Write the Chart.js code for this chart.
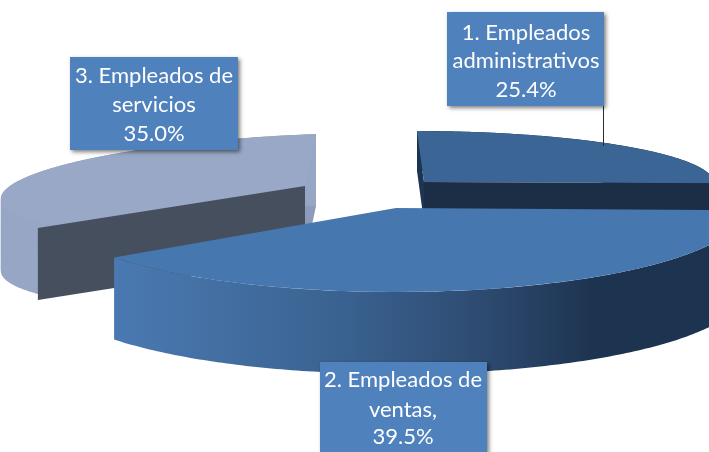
<!DOCTYPE html>
<html><head><meta charset="utf-8">
<style>html,body{margin:0;padding:0;background:#fff}canvas{display:block}</style>
<script src="https://cdn.jsdelivr.net/npm/chart.js@4"></script>
</head><body>
<canvas id="c" width="709" height="452"></canvas>
<script>
const categories = ['1. Empleados administrativos', '2. Empleados de ventas', '3. Empleados de servicios'];
const shares = [25.4, 39.5, 35.0];
const labelLines = [
  ['1. Empleados', 'administrativos', '25.4%'],
  ['2. Empleados de', 'ventas,', '39.5%'],
  ['3. Empleados de', 'servicios', '35.0%']
];
const topColors = ['#3A6594', '#4777AF', '#99A8C6'];

// Projection of each flat slice onto the tilted page plane (exploded 3D look).
const views = [
  {c:[424,182], up:[-7,-51], right:[290,0],   depth:40, cutAt:'end',   cutScale:1,    cut:'#1B2E46', back:'#1D3553', rim:'#1D3450'},
  {c:[396,208], up:[0,-84],  right:[349,0],   depth:82, cutAt:null,    cutScale:1,    cut:null,      back:null,      rim:null},
  {c:[305,186], up:[11,-52], right:[304,-11], depth:72, cutAt:'start', cutScale:1.06, cut:'#454F5D', back:'#8C9BBB', rim:'#97A6C4'}
];
const drawOrder = [2, 0, 1];
const boxes = [
  {x:447, y:12,  w:157, h:94, cx:526, ys:[33,61,90]},
  {x:320, y:362, w:167, h:95, cx:403, ys:[380,410,437]},
  {x:70,  y:57,  w:168, h:93, cx:154, ys:[76,105,134]}
];

function mapper(v){
  return a => [v.c[0]+Math.cos(a)*v.right[0]-Math.sin(a)*v.up[0],
               v.c[1]+Math.cos(a)*v.right[1]-Math.sin(a)*v.up[1]];
}
function poly(ctx, pts, fill){
  ctx.beginPath(); pts.forEach((p,i)=> i?ctx.lineTo(p[0],p[1]):ctx.moveTo(p[0],p[1]));
  ctx.closePath(); ctx.fillStyle=fill; ctx.fill();
}
const pie3d = {
  id:'pie3d',
  beforeDatasetsDraw(chart){
    const ctx = chart.ctx, arcs = chart.getDatasetMeta(0).data;
    drawOrder.forEach(i=>{
      const arc = arcs[i], v = views[i], m = mapper(v);
      const {x,y,startAngle:s,endAngle:e,outerRadius:R} = arc.getProps(['x','y','startAngle','endAngle','outerRadius'],true);
      const d=v.depth, low=p=>[p[0],p[1]+d];
      if(v.back) poly(ctx,[v.c,m(-Math.PI/2),low(m(-Math.PI/2)),low(v.c)],v.back);
      // outer rim, split where the curve turns back in x so the band cannot cancel itself
      let fill = v.rim;
      if(!fill){
        fill=ctx.createLinearGradient(117,0,620,0);
        fill.addColorStop(0,'#4A79B1'); fill.addColorStop(.45,'#3A6290');
        fill.addColorStop(.7,'#2F4D74'); fill.addColorStop(.95,'#1D3450'); fill.addColorStop(1,'#1D3450');
      }
      const n=160; let run=[], dir=0;
      const flush=()=>{ if(run.length>1) poly(ctx,run.concat(run.slice().reverse().map(low)),fill); };
      for(let k=0;k<=n;k++){
        const p=m(s+(e-s)*k/n);
        if(run.length){
          const nd=Math.sign(p[0]-run[run.length-1][0]);
          if(dir && nd && nd!==dir){ flush(); run=[run[run.length-1]]; }
          if(nd) dir=nd;
        }
        run.push(p);
      }
      flush();
      // top face: the library's own arc under the projection
      ctx.save();
      ctx.transform(v.right[0]/R,v.right[1]/R,-v.up[0]/R,-v.up[1]/R,v.c[0],v.c[1]);
      ctx.translate(-x,-y);
      arc.draw(ctx);
      ctx.restore();
      // straight cut face
      if(v.cut){
        const p=m(v.cutAt==='start'?s:e);
        const q=[v.c[0]+(p[0]-v.c[0])*v.cutScale, v.c[1]+(p[1]-v.c[1])*v.cutScale];
        poly(ctx,[v.c,q,low(q),low(v.c)],v.cut);
      }
    });
    return false;
  },
  afterDraw(chart){
    const ctx = chart.ctx;
    ctx.save();
    ctx.strokeStyle='#2b2b2b'; ctx.lineWidth=1;
    ctx.beginPath(); ctx.moveTo(603.5,100); ctx.lineTo(603.5,146); ctx.stroke();
    boxes.forEach((b,i)=>{
      ctx.save();
      ctx.shadowColor='rgba(0,0,0,.5)'; ctx.shadowBlur=4; ctx.shadowOffsetX=2; ctx.shadowOffsetY=2;
      ctx.fillStyle='#4F81BD'; ctx.fillRect(b.x,b.y,b.w,b.h);
      ctx.restore();
      ctx.fillStyle='#fff'; ctx.textAlign='center'; ctx.textBaseline='middle';
      ctx.font='22px Lato, "Open Sans", sans-serif';
      labelLines[i].forEach((t,j)=>ctx.fillText(t,b.cx,b.ys[j]));
    });
    ctx.restore();
  }
};
new Chart(document.getElementById('c'),{
  type:'pie',
  data:{labels:categories,datasets:[{data:shares,backgroundColor:topColors,borderWidth:0}]},
  options:{responsive:false,animation:false,plugins:{legend:{display:false},tooltip:{enabled:false}}},
  plugins:[pie3d]
});
</script>
</body></html>
